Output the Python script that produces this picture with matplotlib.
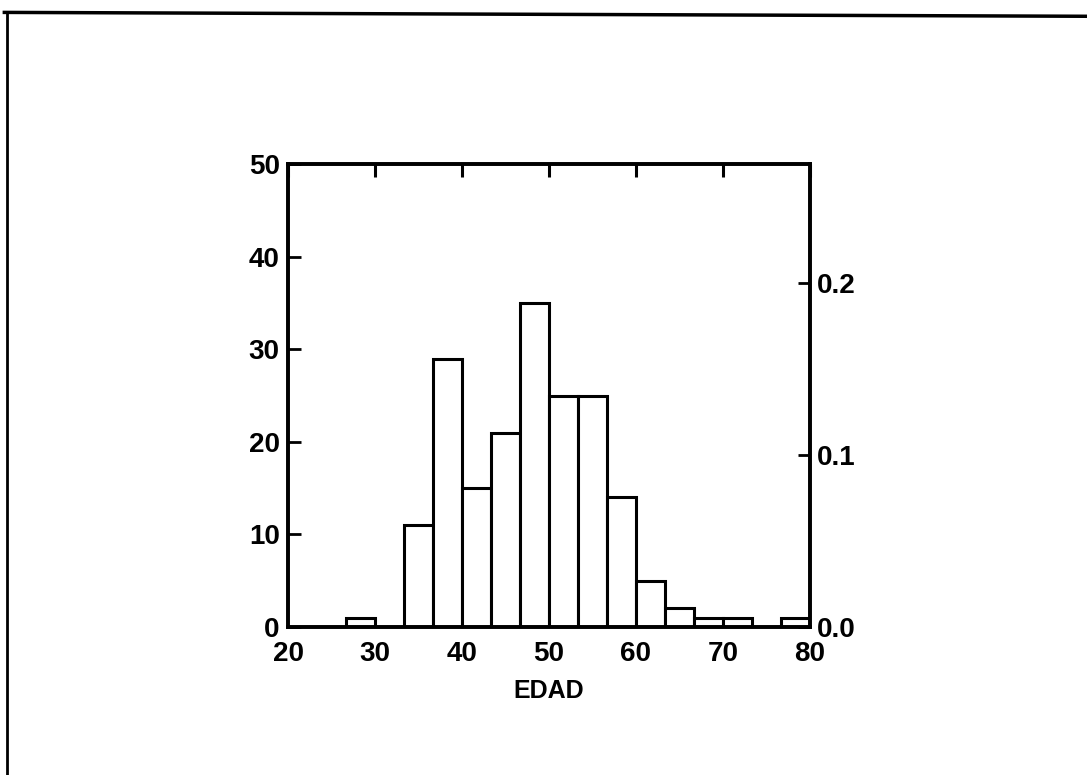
import numpy as np
import matplotlib
matplotlib.use("Agg")
import matplotlib.pyplot as plt
from matplotlib.lines import Line2D

# datos del histograma (EDAD), 18 clases entre 20 y 80
edad_min = 20
edad_max = 80
n_clases = 18
conteos = [0, 0, 1, 0, 11, 29, 15, 21, 35, 25, 25, 14, 5, 2, 1, 1, 0, 1]
ticks_x = [20, 30, 40, 50, 60, 70, 80]
ticks_y = [0, 10, 20, 30, 40, 50]
ticks_prop = [0.0, 0.1, 0.2]

plt.rcParams['font.family'] = ['Liberation Sans', 'DejaVu Sans']
plt.rcParams['font.weight'] = 'bold'

bordes = np.linspace(edad_min, edad_max, n_clases + 1)
ancho = bordes[1] - bordes[0]
total = sum(conteos)

fig = plt.figure(figsize=(10.87, 7.75), dpi=100)
ax = fig.add_axes([0.265, 0.191, 0.48, 0.597])

ax.bar(bordes[:-1], conteos, width=ancho, align='edge',
       facecolor='white', edgecolor='black', linewidth=2.2)

ax.set_xlim(edad_min, edad_max)
ax.set_ylim(0, 50)
ax.set_xticks(ticks_x)
ax.set_yticks(ticks_y)
ax.tick_params(axis='x', direction='in', top=True, bottom=False,
               length=9, width=2.2, labelsize=20, pad=10)
ax.tick_params(axis='y', direction='in', length=9, width=2,
               labelsize=20, pad=6)
for s in ax.spines.values():
    s.set_linewidth(2.6)
ax.set_xlabel('EDAD', fontsize=18, fontweight='bold', labelpad=9)

# eje derecho: proporcion por barra
ax2 = ax.twinx()
ax2.set_ylim(0, 50 / total)
ax2.set_yticks(ticks_prop)
ax2.set_yticklabels(['%.1f' % t for t in ticks_prop])
ax2.tick_params(axis='y', direction='in', length=9, width=2,
                labelsize=20, pad=5)
for s in ax2.spines.values():
    s.set_linewidth(2.6)

# marco del escaneo
fig.add_artist(Line2D([0.004, 1.0], [0.984, 0.979], color='black', lw=2.5,
                      transform=fig.transFigure))
fig.add_artist(Line2D([0.006, 0.006], [0.984, 0.0], color='black', lw=2,
                      transform=fig.transFigure))

fig.savefig('out.png', dpi=100, facecolor='white')
